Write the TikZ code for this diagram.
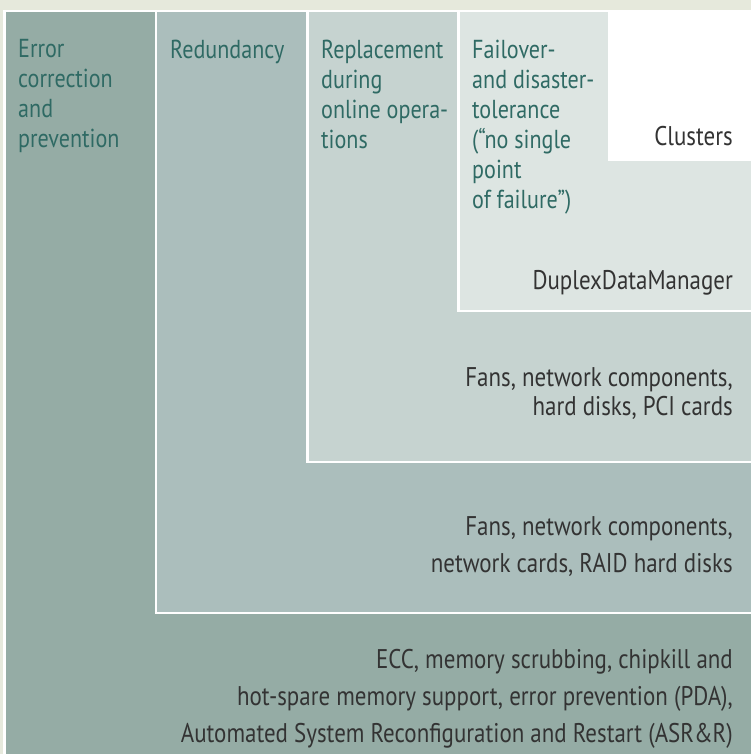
\documentclass[tikz,border=0pt]{standalone}
\usepackage{fontspec}
\setmainfont{PT Sans}[FakeStretch=0.85]
\usetikzlibrary{positioning}

\definecolor{bgbeige}{HTML}{E6E9DC}
\definecolor{layerA}{HTML}{95ACA5}
\definecolor{layerB}{HTML}{ABBEBC}
\definecolor{layerC}{HTML}{C6D3D0}
\definecolor{layerD}{HTML}{DDE5E2}
\definecolor{titleteal}{HTML}{2F6A64}
\definecolor{itemgray}{HTML}{333333}

\tikzset{
  layer/.style={draw=white, line width=2.5pt},
  title/.style={anchor=north west, inner sep=0pt, align=left, text=titleteal,
    font=\fontsize{26}{30}\selectfont},
  item/.style={anchor=north east, inner sep=0pt, align=right, text=itemgray,
    font=\fontsize{27}{37}\selectfont},
}

\begin{document}
\begin{tikzpicture}[x=1pt,y=-1pt]
    \useasboundingbox (0,0) rectangle (751,754);

    % Draw the background
    \fill[bgbeige] (0,0) rectangle (751,754);

    % Draw the nested layers
    \draw[layer, fill=layerA] (4.5,11) rectangle (760,760);
    \draw[layer, fill=layerB] (155.75,11) rectangle (760,612.75);
    \draw[layer, fill=layerC] (307.3,11) rectangle (760,462);
    \draw[layer, fill=layerD] (458.7,11) rectangle (760,311);
    \fill[white] (608,12.25) rectangle (760,161);

    % Titles of the layers
    \node[title] (errtitle) at (18,39.5) {Error\\correction\\and\\prevention};
    \node[title] (redtitle) at (170,39.5) {Redundancy};
    \node[title] (reptitle) at (321,39.5) {Replacement\\during\\online opera-\\tions};
    \node[title] (failtitle) at (472,39.5) {Failover-\\and disaster-\\tolerance\\(“no single\\point\\of failure”)};

    % Items of the layers
    \node[item] (clusters) at (733,125.6) {Clusters};
    \node[item] (duplex) at (733,270.6) {DuplexDataManager};
    \node[item, font=\fontsize{27}{29}\selectfont] (repitems) at (733,367) {Fans, network components,\\hard disks, PCI cards};
    \node[item] (reditems) at (733,516) {Fans, network components,\\network cards, RAID hard disks};
    \node[item] (erritems) at (733,649) {ECC, memory scrubbing, chipkill and\\hot-spare memory support, error prevention (PDA),\\Automated System Reconfiguration and Restart (ASR\&R)};

\end{tikzpicture}
\end{document}
